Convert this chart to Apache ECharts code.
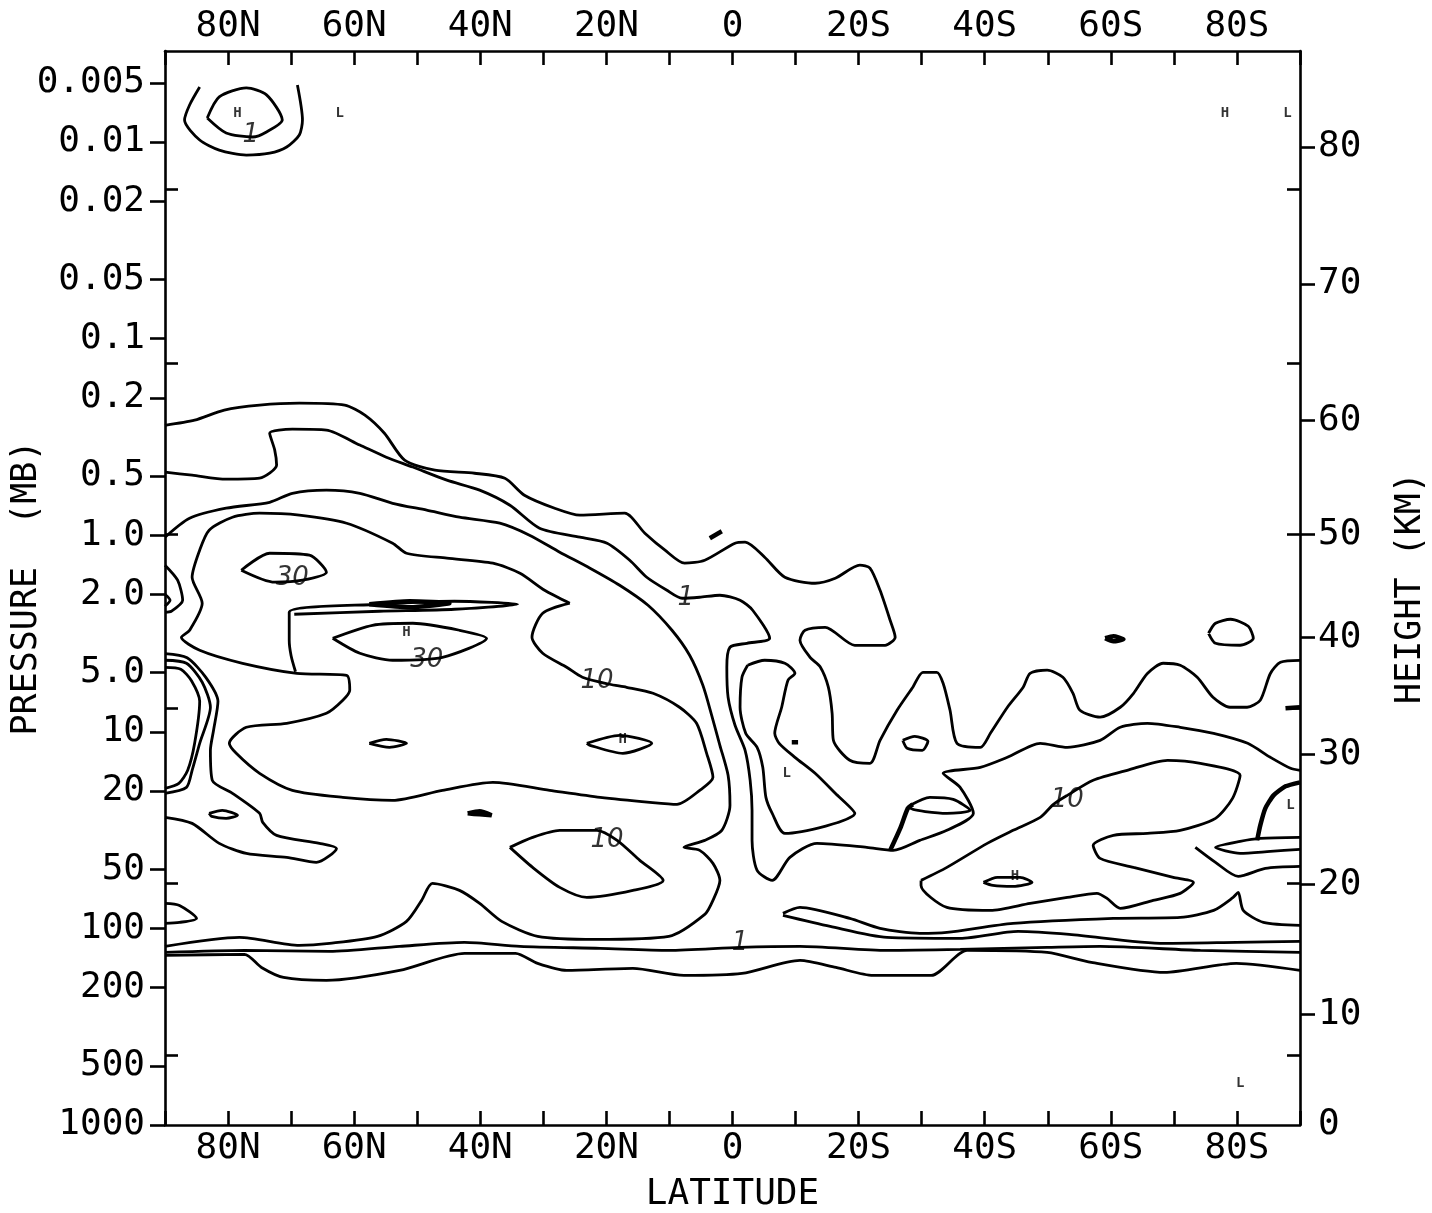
<!DOCTYPE html>
<html><head><meta charset="utf-8">
<script src="https://cdn.jsdelivr.net/npm/echarts@6/dist/echarts.min.js"></script>
<style>html,body{margin:0;padding:0;background:#fff;}#chart{width:1432px;height:1213px;}</style>
</head><body><div id="chart"></div>
<script>
// ---------- axis values ----------
const PMIN = 0.003444, PMAX = 1000;
const latMin = -90, latMax = 90, latStep = 10;
const pressureTicks = [0.005,0.01,0.02,0.05,0.1,0.2,0.5,1,2,5,10,20,50,100,200,500,1000];
const pressureTickLabels = ['0.005','0.01','0.02','0.05','0.1','0.2','0.5','1.0','2.0','5.0','10','20','50','100','200','500','1000'];
const heightTicks = [0,10,20,30,40,50,60,70,80];
const heightTickPressures = [1000,274,59.7,13.0,3.30,0.988,0.260,0.0528,0.0106];
const minorTickPressures = [0.01734,0.1332,0.988,7.59,59.0,443];

// ---------- contour lines: [latitude (deg, + = N), pressure (mb)] ----------
const topOuter = [[84.5,0.00525],[86.1,0.00648],[86.9,0.00773],[84.5,0.00977],[81.4,0.0110],[77.1,0.01165],[73.4,0.0114],[70.7,0.0106],[68.7,0.00921],[68.2,0.00773],[69.0,0.00513]];
const topInner = [[83.3,0.00755],[81.4,0.0059],[77.1,0.00531],[73.9,0.00576],[71.4,0.00773],[73.9,0.00889],[76.1,0.00943],[80.3,0.0090],[83.3,0.00755]];
const contourL0 = [[90,0.276],[85.3,0.260],[80.6,0.231],[75.0,0.218],[68.7,0.213],[61.5,0.218],[58.3,0.245],[55.2,0.303],[52.0,0.415],[47.2,0.467],[40.9,0.484],[36.1,0.513],[33.0,0.626],[28.2,0.729],[24.2,0.791],[17.1,0.773],[13.9,0.977],[10.7,1.192],[7.6,1.388],[4.4,1.34],[-0.4,1.098],[-2.0,1.085],[-5.1,1.294],[-8.3,1.636],[-13.1,1.755],[-16.3,1.655],[-20.2,1.421],[-21.8,1.471],[-23.4,1.905],[-25.0,2.708],[-25.8,3.30],[-24.2,3.63],[-19.4,3.63],[-14.7,2.94],[-11.5,3.04],[-10.7,3.42],[-12.3,4.18],[-13.9,4.67],[-15.2,5.93],[-15.8,8.05],[-16.0,11.05],[-18.6,13.96],[-21.8,14.47],[-23.4,11.05],[-26.1,7.77],[-28.6,5.93],[-30.2,4.98],[-32.4,4.98],[-33.4,5.66],[-34.5,7.77],[-35.6,11.45],[-39.3,12.0],[-40.9,10.18],[-43.6,7.50],[-46.1,5.93],[-47.2,5.04],[-49.9,4.86],[-52.4,5.28],[-54.0,6.37],[-55.1,7.77],[-58.3,8.43],[-61.5,7.50],[-63.6,6.37],[-65.8,5.05],[-68.3,4.48],[-71.0,4.59],[-73.7,5.28],[-76.2,6.67],[-78.9,7.50],[-81.6,7.50],[-83.7,6.91],[-85.3,5.05],[-86.9,4.43],[-90,4.33]];
const contourL1 = [[90,0.478],[85.7,0.495],[80.3,0.519],[75.0,0.513],[72.3,0.440],[72.6,0.369],[73.4,0.303],[69.8,0.289],[64.4,0.292],[59.1,0.348],[54.9,0.401],[50.7,0.450],[45.3,0.525],[40.1,0.590],[35.3,0.704],[30.6,0.921],[24.2,1.024],[19.9,1.098],[16.3,1.34],[13.6,1.636],[10.4,1.905],[8.0,2.092],[5.2,2.068],[2.0,2.02],[-1.2,2.142],[-3.2,2.408],[-5.9,3.343],[-2.3,3.545],[0.4,3.715],[0.9,4.696],[0.7,6.673],[-0.4,9.265],[-2.0,12.42],[-2.8,17.65],[-3.1,25.09],[-3.1,35.66],[-3.9,50.68],[-6.3,56.98],[-9.1,43.53],[-13.4,36.93],[-21.3,38.71],[-25.5,40.10],[-29.7,35.66],[-34.0,31.72],[-38.2,25.99],[-36.1,19.16],[-33.4,16.26],[-39.3,15.16],[-43.6,13.48],[-48.8,11.44],[-53.1,11.99],[-58.3,11.05],[-61.5,9.485],[-65.8,9.05],[-71.0,9.485],[-76.3,10.18],[-81.7,11.44],[-85.3,13.48],[-88.5,15.34],[-90,15.70]];
const contourL2 = [[90,1.024],[86.1,0.820],[80.3,0.729],[73.4,0.680],[69.8,0.612],[64.4,0.590],[59.1,0.612],[53.9,0.688],[48.5,0.746],[43.3,0.810],[36.9,0.869],[32.2,1.0],[27.4,1.220],[22.6,1.472],[17.9,1.797],[13.4,2.271],[9.6,3.044],[6.8,4.08],[4.7,5.798],[3.3,8.24],[2.0,11.71],[0.7,16.65],[0.4,23.66],[1.7,31.72],[4.4,35.66],[7.7,38.71],[5.2,40.10],[3.1,46.69],[2.0,56.98],[3.1,72.03],[4.4,84.86],[10.1,109.8],[21.7,113.8],[30.9,109.8],[36.6,92.13],[40.1,74.61],[43.3,64.06],[47.6,59.02],[49.3,72.03],[51.7,92.13],[56.3,109.8],[63.9,119.2],[68.7,122.0],[78.2,111.1],[90,123.4]];
const contourL3 = [[25.8,2.218],[29.8,1.905],[33.7,1.561],[38.0,1.388],[45.3,1.309],[51.7,1.235],[53.9,1.098],[61.2,0.869],[68.7,0.791],[75.0,0.773],[79.3,0.810],[83.0,0.943],[84.5,1.192],[85.7,1.636],[84.1,2.218],[86.1,3.044],[87.4,3.304],[84.5,3.848],[77.7,4.481],[69.1,5.038],[61.2,5.157],[60.7,6.148],[61.8,6.912],[64.4,8.049],[70.7,9.05],[77.1,9.485],[79.8,11.44],[78.7,12.87],[75.0,16.26],[69.8,19.85],[61.8,21.55],[53.9,22.32],[46.0,19.85],[38.0,18.07],[29.0,19.85],[21.0,21.55],[13.1,22.85],[8.8,23.39],[5.2,19.85],[3.1,17.04],[4.1,12.87],[5.7,9.05],[8.4,7.503],[12.6,6.368],[16.8,5.935],[19.5,5.730],[23.8,5.279],[26.3,4.696],[30.1,3.986],[31.8,3.304],[30.1,2.495],[25.8,2.218]];
const stripLine = [[69.3,4.95],[70.0,4.1],[70.3,3.422],[70.3,2.465],[56.0,2.245],[44.1,2.167],[34.1,2.245],[44.1,2.380],[56.0,2.436],[69.5,2.524]];
const darkLens = [[57.6,2.245],[51.2,2.167],[44.9,2.218],[51.2,2.325],[57.6,2.245]];
const lens30Upper = [[77.9,1.507],[73.4,1.235],[67.1,1.264],[64.4,1.543],[68.2,1.694],[72.6,1.734],[77.9,1.507]];
const lens30Lower = [[63.4,3.343],[57.1,2.871],[50.7,2.805],[43.3,3.044],[39.0,3.343],[46.0,4.177],[53.9,4.326],[59.1,3.986],[63.4,3.343]];
const edgeLoop2mb = [[90,1.421],[88.0,1.694],[87.2,2.142],[89.0,2.436],[90,2.465]];
const edgeDot2mb = [[90,1.996],[89.2,2.142],[90,2.298]];
const contourE = [[90,4.0],[86.5,4.2],[83.5,5.3],[81.6,7.0],[82.3,9.826],[82.8,12.42],[82.5,17.65],[79.3,20.56],[75.0,25.99],[74.5,28.88],[72.3,33.63],[65.5,36.93],[62.8,39.17],[66.0,46.15],[70.7,43.53],[77.1,41.54],[81.4,36.93],[85.7,29.23],[90,27.24]];
const contourF1 = [[90,4.326],[86.6,4.481],[84.1,5.598],[82.8,7.503],[84.5,11.44],[85.7,15.70],[86.6,19.16],[90,20.56]];
const contourF2 = [[90,4.70],[87.5,4.80],[85.8,5.5],[84.5,7.0],[85.3,11.44],[86.4,15.7],[87.8,18.29],[90,19.39]];
const loop27mb = [[83.0,25.99],[80.9,25.09],[78.5,26.61],[80.3,27.56],[82.6,26.92],[83.0,25.99]];
const lensEdge100 = [[90,74.61],[87.7,76.38],[85.0,88.95],[87.7,93.22],[90,94.32]];
const ellipse55N = [[57.6,11.44],[54.9,10.92],[51.7,11.44],[54.4,11.99],[57.6,11.44]];
const dash40N = [[42.0,25.99],[40.1,25.39],[38.2,26.61],[40.1,26.3],[42.0,25.99]];
const ellipseH20N = [[23.1,11.44],[17.9,10.42],[12.8,11.44],[17.4,12.87],[22.6,11.71],[23.1,11.44]];
const lens10Lower = [[35.3,38.71],[31.7,34.43],[27.4,31.72],[21.5,31.72],[18.3,35.66],[14.7,45.08],[11.0,56.98],[15.8,64.06],[23.1,69.54],[27.4,61.85],[31.7,48.93],[35.3,38.71]];
const band1 = [[90,132.5],[77.4,129.4],[63.9,130.9],[52.8,123.4],[42.5,117.8],[33.7,123.4],[21.0,126.3],[10.1,129.4],[-1.2,124.9],[-10.7,123.4],[-24.5,129.4],[-36.1,127.9],[-49.9,124.9],[-58.3,123.4],[-74.2,129.4],[-90,132.5]];
const bandLow = [[90,137.2],[77.4,135.6],[74.7,158.0],[71.2,177.6],[64.4,183.9],[52.8,163.6],[42.5,134.0],[34.4,134.0],[30.9,150.7],[26.3,163.6],[15.8,159.8],[7.7,173.5],[-1.5,169.5],[-10.7,145.5],[-16.4,158.0],[-22.3,173.5],[-31.5,173.5],[-37.2,129.4],[-49.9,132.5],[-56.9,148.9],[-68.5,167.5],[-79.9,150.7],[-90,163.6]];
const loopL = [[-2.4,4.587],[-5.1,4.326],[-8.3,4.481],[-9.9,5.038],[-8.8,5.468],[-7.8,7.503],[-6.7,10.18],[-7.4,11.44],[-9.9,13.48],[-13.1,16.26],[-16.3,20.56],[-19.4,25.99],[-8.3,32.85],[-6.3,25.99],[-5.3,21.55],[-4.8,15.16],[-3.9,11.99],[-2.1,10.18],[-1.2,7.503],[-1.5,5.279],[-2.4,4.587]];
const tongueUpper = [[-8.0,83.87],[-10.7,78.19],[-18.6,88.95],[-23.4,100.0],[-29.7,106.0],[-34.0,104.8],[-44.5,94.30],[-60.4,88.95],[-71.0,87.89],[-76.3,80.98],[-79.4,69.54],[-80.2,65.58],[-81.0,80.98],[-84.2,93.22],[-90,96.54]];
const tongueLower = [[-8.0,85.86],[-15.5,97.68],[-24.5,111.1],[-36.1,112.4],[-45.3,103.6],[-53.4,107.2],[-68.5,119.2],[-79.9,117.8],[-90,116.5]];
const contour10S = [[-29.9,56.98],[-34.0,48.93],[-40.4,36.93],[-44.5,31.72],[-48.8,27.24],[-50.9,23.39],[-53.1,21.05],[-57.2,17.65],[-62.6,15.70],[-69.0,13.96],[-74.2,14.47],[-80.5,16.65],[-79.3,21.80],[-76.6,27.56],[-71.0,31.72],[-65.8,32.85],[-60.4,33.63],[-57.2,37.81],[-58.3,44.04],[-63.6,48.93],[-69.9,55.01],[-73.1,58.33],[-71.0,66.36],[-66.7,72.03],[-61.5,79.11],[-59.4,70.35],[-57.8,66.36],[-53.1,69.54],[-47.2,74.61],[-40.9,80.98],[-34.0,78.19],[-29.9,60.42],[-29.9,56.98]];
const lensH45S = [[-39.8,58.33],[-42.0,55.01],[-45.6,55.01],[-47.5,58.33],[-44.5,61.13],[-41.3,60.42],[-39.8,58.33]];
const wedge80S = [[-90,34.43],[-83.7,34.83],[-80.5,36.08],[-76.6,38.71],[-80.5,41.54],[-85.3,40.57],[-90,39.63]];
const line80S = [[-73.4,38.71],[-76.6,46.15],[-80.2,54.37],[-84.5,49.51],[-90,48.36]];
const arc85S = [[-90,18.07],[-87.7,18.94],[-85.8,21.05],[-84.5,24.51],[-83.7,29.92],[-83.2,35.66]];
const hook27S = [[-25.0,40.10],[-26.6,30.99],[-27.8,24.51],[-28.6,23.39]];
const cap30S = [[-28.2,23.66],[-31.3,21.55],[-35.0,22.06],[-37.7,25.09],[-34.0,25.99],[-28.2,24.51],[-28.2,23.66]];
const loop30S = [[-27.0,11.05],[-28.9,10.54],[-31.0,11.18],[-30.1,12.42],[-27.7,12.12],[-27.0,11.05]];
const loop80S = [[-75.5,3.154],[-76.6,2.805],[-79.0,2.676],[-81.8,2.905],[-82.6,3.343],[-80.5,3.629],[-76.6,3.545],[-75.5,3.154]];
const dash60S = [[-59.1,3.343],[-60.4,3.265],[-62.0,3.383],[-60.4,3.462],[-59.1,3.343]];
const dashEq = [[3.6,1.036],[1.7,0.954]];
const dot10S = [[-9.4,11.3],[-10.4,11.3]];
const dashEdge80S = [[-87.7,7.59],[-90,7.50]];

// ---------- contour annotations: [lat, pressure, text] ----------
const extremaMarks = [[78.5,0.00712,'H'],[62.3,0.00712,'L'],[-78.1,0.00712,'H'],[-88.0,0.00712,'L'],[51.7,3.116,'H'],[17.4,10.9,'H'],[-8.6,16.26,'L'],[-44.8,54.37,'H'],[-88.5,23.66,'L'],[-80.5,615,'L']];
const valueMarks = [[69.8,1.655,'30'],[48.5,4.326,'30'],[21.5,5.53,'10'],[19.9,35.66,'10'],[-53.1,22.32,'10'],[7.4,2.092,'1'],[-1.2,119.2,'1'],[76.4,0.00921,'1']];

const thinLines = [topOuter, topInner, contourL0, contourL1, contourL2, contourL3, stripLine, lens30Upper, lens30Lower, edgeLoop2mb, edgeDot2mb, contourE, contourF1, contourF2, loop27mb, lensEdge100, ellipse55N, ellipseH20N, lens10Lower, band1, bandLow, loopL, tongueUpper, tongueLower, contour10S, lensH45S, wedge80S, line80S, cap30S, loop30S, loop80S];
const thickLines = [darkLens, dash40N, arc85S, hook27S, dash60S, dashEq, dot10S, dashEdge80S];

// ---------- chart ----------
const L10 = v => Math.log10(v);
const FONT = "'DejaVu Sans Mono', 'Liberation Mono', monospace";
const axisFont = {color:'#000', fontFamily: FONT, fontSize: 36};
function labelFor(list, labels, v){
  let best = 0, d = 1e9;
  list.forEach((p,i)=>{ const dd = Math.abs(L10(p)-v); if(dd<d){d=dd;best=i;} });
  return d < 1e-6 ? String(labels[best]) : '';
}
function latLabel(v){
  if (Math.abs(v) >= 90 || v % 20 !== 0) return '';
  return v === 0 ? '0' : (v > 0 ? v + 'N' : (-v) + 'S');
}
const lineStyleAxis = {color:'#000', width: 2.6};
const series = [];
thinLines.forEach(d => series.push({type:'line', data:d, xAxisIndex:0, yAxisIndex:0, showSymbol:false, symbol:'none', smooth:0.25, lineStyle:{color:'#000', width:2.8}, silent:true}));
thickLines.forEach(d => series.push({type:'line', data:d, xAxisIndex:0, yAxisIndex:0, showSymbol:false, symbol:'none', smooth:0.2, lineStyle:{color:'#000', width:4.5}, silent:true}));
series.push({type:'scatter', xAxisIndex:0, yAxisIndex:0, symbolSize:0, silent:true,
  data: extremaMarks.map(m => ({value:[m[0], m[1]], name:m[2]})),
  label:{show:true, position:'inside', formatter:'{b}', color:'#000', fontFamily: FONT, fontWeight:'bold', fontSize:14}});
series.push({type:'scatter', xAxisIndex:0, yAxisIndex:0, symbolSize:0, silent:true,
  data: valueMarks.map(m => ({value:[m[0], m[1]], name:m[2]})),
  label:{show:true, position:'inside', formatter:'{b}', color:'#000', fontFamily:"'DejaVu Sans', sans-serif", fontStyle:'italic', fontSize:26}});

const xBase = {type:'value', min:latMin, max:latMax, interval:latStep, inverse:true,
  axisLine:{show:true, onZero:false, lineStyle:lineStyleAxis},
  axisTick:{show:true, inside:true, length:14, lineStyle:lineStyleAxis},
  splitLine:{show:false}};
const yLogExt = {min:L10(PMIN), max:L10(PMAX), inverse:true, splitLine:{show:false}};

const option = {
  animation:false,
  backgroundColor:'#fff',
  grid:{left:165, right:132, top:51, bottom:88, containLabel:false, outerBoundsMode:'none'},
  xAxis:[
    Object.assign({}, xBase, {position:'bottom',
      axisLabel:{interval:0, margin:6, formatter:latLabel, ...axisFont},
      name:'LATITUDE', nameLocation:'middle', nameGap:52, nameMoveOverlap:false, nameTextStyle:{...axisFont, fontSize:36}}),
    Object.assign({}, xBase, {position:'top',
      axisLabel:{interval:0, margin:6, formatter:latLabel, ...axisFont}})
  ],
  yAxis:[
    {type:'log', logBase:10, min:PMIN, max:PMAX, inverse:true, show:false},
    Object.assign({type:'value', position:'left'}, yLogExt, {
      axisLine:{show:true, onZero:false, lineStyle:lineStyleAxis},
      axisTick:{show:true, inside:false, length:15, lineStyle:lineStyleAxis, customValues: pressureTicks.map(L10)},
      axisLabel:{show:true, margin:20, customValues: pressureTicks.map(L10), formatter: v => labelFor(pressureTicks, pressureTickLabels, v), ...axisFont},
      name:'PRESSURE  (MB)', nameLocation:'middle', nameRotate:90, nameGap:121, nameMoveOverlap:false, nameTextStyle:{...axisFont, fontSize:35}}),
    Object.assign({type:'value', position:'right'}, yLogExt, {
      axisLine:{show:true, onZero:false, lineStyle:lineStyleAxis},
      axisTick:{show:true, inside:false, length:15, lineStyle:lineStyleAxis, customValues: heightTickPressures.slice(1).map(L10)},
      axisLabel:{show:true, margin:18, customValues: heightTickPressures.map(L10), formatter: v => labelFor(heightTickPressures, heightTicks, v), ...axisFont},
      name:'HEIGHT (KM)', nameLocation:'middle', nameRotate:90, nameGap:93, nameMoveOverlap:false, nameTextStyle:{...axisFont, fontSize:35}}),
    Object.assign({type:'value', position:'left'}, yLogExt, {
      axisLine:{show:false, onZero:false}, axisLabel:{show:false},
      axisTick:{show:true, inside:true, length:13, lineStyle:lineStyleAxis, customValues: minorTickPressures.map(L10)}}),
    Object.assign({type:'value', position:'right'}, yLogExt, {
      axisLine:{show:false, onZero:false}, axisLabel:{show:false},
      axisTick:{show:true, inside:true, length:13, lineStyle:lineStyleAxis, customValues: minorTickPressures.map(L10)}})
  ],
  series: series
};
const chart = echarts.init(document.getElementById('chart'), null, {renderer:'canvas'});
chart.setOption(option);
</script></body></html>
